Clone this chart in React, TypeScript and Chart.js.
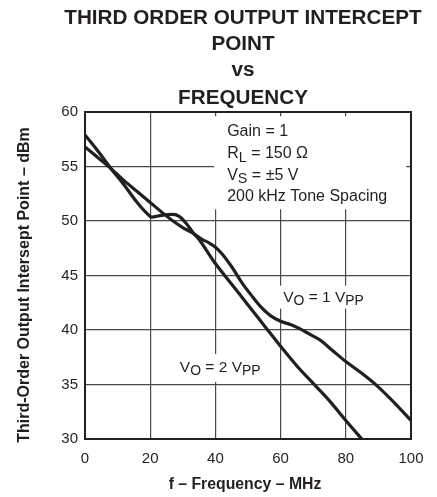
import { useEffect, useRef } from "react";
import { Chart, registerables } from "chart.js";

Chart.register(...registerables);

const FONT = "'Liberation Sans', Arial, Helvetica, sans-serif";
const INK = "#231f20";

const titleLines = ["THIRD ORDER OUTPUT INTERCEPT", "POINT", "vs", "FREQUENCY"];
const xAxisTitle = "f – Frequency – MHz";
const yAxisTitle = "Third-Order Output Intersept Point – dBm";

// Vo = 1 Vpp curve
const freqVo1 = [0, 4, 8, 12, 16, 20, 24, 27, 30, 33, 36, 38, 40, 42, 45, 48, 51, 54, 57, 60, 63, 66, 69, 72, 76, 80, 85, 89.5, 95, 100];
const ip3Vo1 = [56.8, 55.8, 54.8, 53.7, 52.7, 51.7, 50.7, 50.0, 49.4, 48.9, 48.3, 48.0, 47.6, 47.0, 45.8, 44.4, 43.2, 42.1, 41.3, 40.8, 40.5, 40.1, 39.6, 39.1, 38.1, 37.1, 36.0, 34.9, 33.3, 31.7];

// Vo = 2 Vpp curve
const freqVo2 = [0, 4, 8, 12, 16, 19, 20.5, 23, 27, 29, 31, 33, 35, 40, 45, 50, 55, 60, 65, 70, 75, 80, 84.9];
const ip3Vo2 = [57.9, 56.4, 54.8, 53.3, 51.7, 50.7, 50.35, 50.5, 50.6, 50.4, 49.8, 49.0, 48.3, 46.1, 44.2, 42.3, 40.4, 38.5, 36.7, 35.1, 33.5, 31.7, 30.0];

type Part = [string, boolean];
const conditionLines: Part[][] = [
  [["Gain = 1", false]],
  [["R", false], ["L", true], [" = 150 Ω", false]],
  [["V", false], ["S", true], [" = ±5 V", false]],
  [["200 kHz Tone Spacing", false]],
];
const labelVo1: Part[] = [["V", false], ["O", true], [" = 1 V", false], ["PP", true]];
const labelVo2: Part[] = [["V", false], ["O", true], [" = 2 V", false], ["PP", true]];

function drawRich(ctx: CanvasRenderingContext2D, parts: Part[], x: number, y: number, size: number) {
  let cx = x;
  for (const [t, sub] of parts) {
    const s = sub ? size * 0.9 : size;
    ctx.font = `${s}px ${FONT}`;
    ctx.fillText(t, cx, sub ? y + size * 0.22 : y);
    cx += ctx.measureText(t).width;
  }
  return cx - x;
}

function richWidth(ctx: CanvasRenderingContext2D, parts: Part[], size: number) {
  let w = 0;
  for (const [t, sub] of parts) {
    ctx.font = `${sub ? size * 0.9 : size}px ${FONT}`;
    w += ctx.measureText(t).width;
  }
  return w;
}

const overlay = {
  id: "overlay",
  beforeDatasetsDraw(chart: any) {
    const { ctx, scales } = chart;
    const xs = scales.x;
    const ys = scales.y;
    ctx.save();
    ctx.fillStyle = "#ffffff";
    const cx = xs.getPixelForValue(43.6);
    const cy = ys.getPixelForValue(57.77);
    ctx.fillRect(cx - 13, cy - 20, 192, 93);
    const size = 15.5;
    const l1x = xs.getPixelForValue(60.8);
    const l1y = ys.getPixelForValue(42.6);
    const w1 = richWidth(ctx, labelVo1, size);
    ctx.fillStyle = "#ffffff";
    ctx.fillRect(l1x - 4, l1y - 16, w1 + 8, 23);
    const l2x = xs.getPixelForValue(29.1);
    const l2y = ys.getPixelForValue(36.15);
    const w2 = richWidth(ctx, labelVo2, size);
    ctx.fillStyle = "#ffffff";
    ctx.fillRect(l2x - 4, l2y - 18, w2 + 8, 28);
    ctx.restore();
  },
  afterDatasetsDraw(chart: any) {
    const { ctx, scales, chartArea } = chart;
    const xs = scales.x;
    const ys = scales.y;
    ctx.save();
    ctx.strokeStyle = INK;
    ctx.lineWidth = 2;
    ctx.strokeRect(chartArea.left, chartArea.top, chartArea.right - chartArea.left, chartArea.bottom - chartArea.top);

    ctx.fillStyle = INK;
    ctx.textBaseline = "alphabetic";
    ctx.textAlign = "left";
    const cx = xs.getPixelForValue(43.6);
    const cy = ys.getPixelForValue(57.77);
    conditionLines.forEach((parts, i) => {
      drawRich(ctx, parts, cx, cy + i * 21.7, 16);
    });
    drawRich(ctx, labelVo1, xs.getPixelForValue(60.8), ys.getPixelForValue(42.6), 15.5);
    drawRich(ctx, labelVo2, xs.getPixelForValue(29.1), ys.getPixelForValue(36.15), 15.5);

    ctx.textAlign = "center";
    ctx.font = `bold 20.7px ${FONT}`;
    const baselines = [24, 50, 76, 104];
    titleLines.forEach((t, i) => ctx.fillText(t, 243, baselines[i]));

    ctx.font = `bold 15.8px ${FONT}`;
    ctx.fillText(xAxisTitle, (chartArea.left + chartArea.right) / 2 - 3, 489);
    ctx.font = `bold 16px ${FONT}`;
    ctx.translate(29, 285);
    ctx.rotate(-Math.PI / 2);
    ctx.fillText(yAxisTitle, 0, 0);
    ctx.restore();
  },
};

export default function App() {
  const ref = useRef<HTMLCanvasElement | null>(null);
  useEffect(() => {
    document.body.style.margin = "0";
    const canvas = ref.current;
    if (!canvas) return;
    const line = (xs: number[], ys: number[], label: string) => ({
      label,
      data: xs.map((x, i) => ({ x, y: ys[i] })),
      borderColor: INK,
      backgroundColor: INK,
      borderWidth: 3.2,
      pointRadius: 0,
      cubicInterpolationMode: "monotone" as const,
      fill: false,
    });
    const chart = new Chart(canvas, {
      type: "line",
      data: {
        datasets: [line(freqVo1, ip3Vo1, "VO = 1 VPP"), line(freqVo2, ip3Vo2, "VO = 2 VPP")],
      },
      plugins: [overlay],
      options: {
        animation: false,
        responsive: false,
        devicePixelRatio: 1,
        layout: { padding: { top: 112, right: 26, bottom: 0, left: 0 } },
        plugins: {
          legend: { display: false },
          tooltip: { enabled: false },
          title: { display: false },
        },
        scales: {
          x: {
            type: "linear",
            min: 0,
            max: 100,
            border: { display: false },
            grid: { color: "#4a4a4a", lineWidth: 1.2, drawTicks: false },
            ticks: { stepSize: 20, padding: 11, color: INK, font: { family: FONT, size: 15 } },
            afterFit: (s: any) => {
              s.height = 58;
            },
          },
          y: {
            type: "linear",
            min: 30,
            max: 60,
            border: { display: false },
            grid: { color: "#4a4a4a", lineWidth: 1.2, drawTicks: false },
            ticks: { stepSize: 5, padding: 7, color: INK, font: { family: FONT, size: 15 } },
            afterFit: (s: any) => {
              s.width = 85;
            },
          },
        },
      },
    });
    return () => chart.destroy();
  }, []);
  return (
    <div style={{ width: 437, height: 497, position: "relative", background: "#fff" }}>
      <canvas ref={ref} width={437} height={497} style={{ display: "block" }} />
    </div>
  );
}
